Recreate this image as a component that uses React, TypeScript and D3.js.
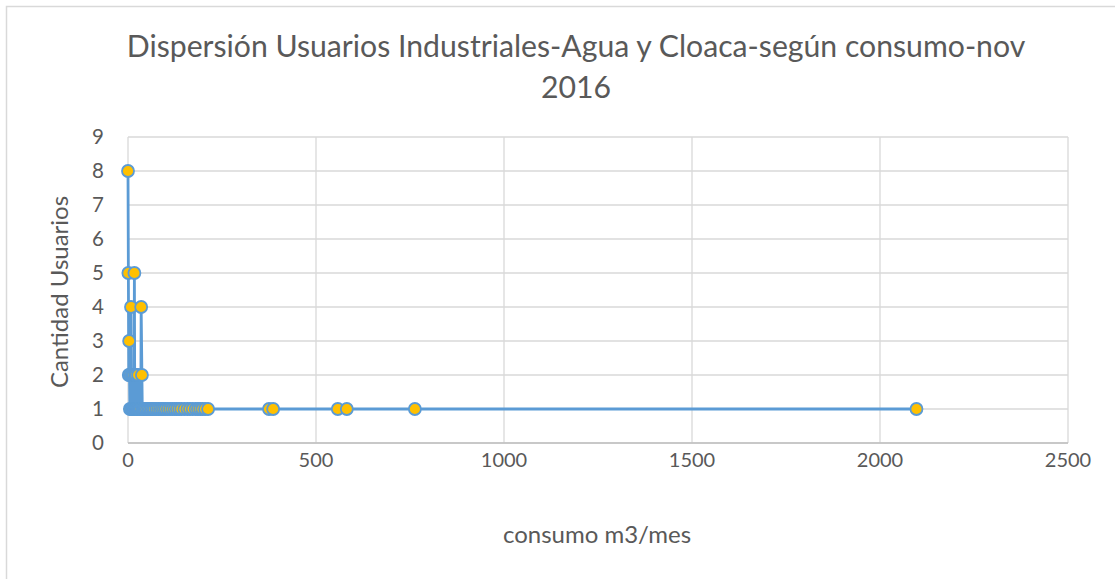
import React from "react";
import * as d3 from "d3";

const consumo = [0, 1, 2, 3, 4, 5, 6, 8, 9, 10, 11, 12, 13, 14, 15, 16, 17, 18, 19, 20, 21, 22, 23, 24, 26, 27, 28, 30, 32, 34, 35, 37, 38,
  40, 43, 46, 50, 54, 58, 62, 66, 70, 75, 80, 85, 90, 95, 100, 106, 112, 118, 124, 130, 136, 142, 150, 158, 165, 172, 180, 186, 192, 198, 205, 213,
  375, 386, 558, 582, 763, 2097];
const usuarios = [8, 5, 2, 3, 2, 1, 2, 4, 1, 2, 1, 2, 1, 1, 2, 1, 5, 1, 2, 1, 1, 2, 1, 1, 1, 2, 1, 1, 1, 1, 4, 2, 1,
  1, 1, 1, 1, 1, 1, 1, 1, 1, 1, 1, 1, 1, 1, 1, 1, 1, 1, 1, 1, 1, 1, 1, 1, 1, 1, 1, 1, 1, 1, 1, 1,
  1, 1, 1, 1, 1, 1];
const xTicks = [0, 500, 1000, 1500, 2000, 2500];
const yTicks = [0, 1, 2, 3, 4, 5, 6, 7, 8, 9];
const titleLines = ["Dispersión Usuarios Industriales-Agua y Cloaca-según consumo-nov", "2016"];
const xLabel = "consumo m3/mes";
const yLabel = "Cantidad Usuarios";

export default function App() {
  const W = 1115, H = 579;
  const left = 128, right = 1068, top = 137, bottom = 443;
  const x = d3.scaleLinear().domain([0, 2500]).range([left, right]);
  const y = d3.scaleLinear().domain([0, 9]).range([bottom, top]);
  const pts = consumo.map((c, i) => [c, usuarios[i]] as [number, number]);
  const line = d3.line<[number, number]>().x(d => x(d[0])).y(d => y(d[1]));
  const font = "Lato, 'Open Sans', sans-serif";
  const txt = "#595959";
  return (
    <svg width={W} height={H} style={{ position: "absolute", left: 0, top: 0, background: "#fff" }} fontFamily={font}>
      <rect x={6.5} y={6.5} width={1130} height={600} fill="#fff" stroke="#D9D9D9" strokeWidth={1.5} />
      {titleLines.map((t, i) => (
        <text key={i} x={576} y={57 + i * 41} textAnchor="middle" fontSize={30.2} fill={txt} fontWeight={400}>{t}</text>
      ))}
      {yTicks.map(t => (
        <line key={"gy" + t} x1={left} x2={right} y1={y(t)} y2={y(t)} stroke="#D9D9D9" strokeWidth={1.3} />
      ))}
      {xTicks.map(t => (
        <line key={"gx" + t} x1={x(t)} x2={x(t)} y1={top} y2={bottom} stroke="#D9D9D9" strokeWidth={1.3} />
      ))}
      <line x1={left} x2={right} y1={bottom} y2={bottom} stroke="#BFBFBF" strokeWidth={1.5} />
      {yTicks.map(t => (
        <text key={"ty" + t} x={104} y={y(t) + 7} textAnchor="end" fontSize={20.5} fill={txt}>{t}</text>
      ))}
      {xTicks.map(t => (
        <text key={"tx" + t} x={x(t)} y={467} textAnchor="middle" fontSize={20} fill={txt}>{t}</text>
      ))}
      <text x={597} y={543} textAnchor="middle" fontSize={24} fill={txt}>{xLabel}</text>
      <text transform={`translate(68,292) rotate(-90)`} textAnchor="middle" fontSize={24} fill={txt}>{yLabel}</text>
      <path d={line(pts) || ""} fill="none" stroke="#5B9BD5" strokeWidth={2.8} strokeLinejoin="round" />
      {pts.map((p, i) => (
        <circle key={i} cx={x(p[0])} cy={y(p[1])} r={6} fill="#FFC000" stroke="#5B9BD5" strokeWidth={1.8} />
      ))}
    </svg>
  );
}
